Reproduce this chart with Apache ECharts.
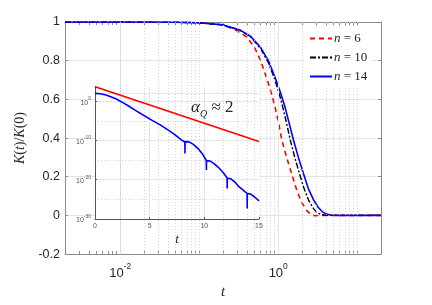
<!DOCTYPE html>
<html><head><meta charset="utf-8">
<script src="https://cdn.jsdelivr.net/npm/echarts@6/dist/echarts.min.js"></script>
<style>html,body{margin:0;padding:0;background:#fff}#c{width:432px;height:305px}</style>
</head><body><div id="c"></div>
<script>
// ---- main plot data: K(t)/K(0) vs t (log t axis) ----
const seriesNames = ['n = 6', 'n = 10', 'n = 14'];
const n6T  = [0.002, 0.02, 0.05, 0.1, 0.2, 0.3, 0.4, 0.5, 0.6, 0.68, 0.76, 0.83, 0.92, 1.0, 1.11, 1.3, 1.52, 1.75, 2.0, 2.3, 2.6, 2.9, 3.3, 20];
const n6K  = [1, 1, 0.999, 0.996, 0.985, 0.955, 0.922, 0.87, 0.8, 0.735, 0.675, 0.625, 0.552, 0.49, 0.39, 0.29, 0.2, 0.12, 0.065, 0.025, 0.006, -0.002, 0, 0];
const n10T = [0.002, 0.02, 0.05, 0.1, 0.2, 0.33, 0.45, 0.6, 0.75, 0.9, 1.03, 1.15, 1.27, 1.42, 1.62, 1.86, 2.12, 2.45, 2.8, 3.1, 3.5, 4.0, 20];
const n10K = [1, 1, 0.999, 0.996, 0.985, 0.957, 0.922, 0.862, 0.79, 0.705, 0.63, 0.555, 0.48, 0.39, 0.3, 0.215, 0.14, 0.075, 0.035, 0.015, 0.004, 0, 0];
const n14T = [0.002, 0.02, 0.05, 0.1, 0.2, 0.33, 0.45, 0.6, 0.75, 0.9, 1.05, 1.2, 1.35, 1.56, 1.8, 2.09, 2.4, 2.8, 3.2, 3.6, 4.0, 4.6, 5.5, 20];
const n14K = [1, 1, 0.999, 0.996, 0.985, 0.958, 0.925, 0.868, 0.8, 0.72, 0.645, 0.57, 0.49, 0.39, 0.3, 0.215, 0.14, 0.08, 0.042, 0.02, 0.008, 0.002, 0, 0];

// main axis ticks
const mainYTicks = [-0.2, 0, 0.2, 0.4, 0.6, 0.8, 1];
const mainXLabels = [0.01, 1];
const mainXMinor = [0.003, 0.004, 0.005, 0.006, 0.007, 0.008, 0.009,
  0.02, 0.03, 0.04, 0.05, 0.06, 0.07, 0.08, 0.09, 0.1,
  0.2, 0.3, 0.4, 0.5, 0.6, 0.7, 0.8, 0.9,
  2, 3, 4, 5, 6, 7, 8, 9, 10];

// ---- inset data: log10 K(t) vs t ----
const insetBlueT = [0, 0.5, 1, 1.5, 2, 2.5, 3, 3.66, 4.4, 5.19, 6, 6.7, 7.3, 7.93, 8.22,
  8.23, 8.24, 8.6, 9.0, 9.4, 9.8, 10.18, 10.19, 10.2, 10.5, 10.9, 11.3, 11.7, 12.08, 12.09, 12.1,
  12.4, 12.8, 13.1, 13.5, 13.91, 13.92, 13.93, 14.2, 14.6, 15];
const insetBlueLogK = [2.0, 1.9, 1.6, 1.1, 0.5, -0.3, -1.1, -2.26, -3.5, -4.8, -6.1, -7.35, -8.5, -9.9, -10.4,
  -13.3, -10.3, -10.35, -11.0, -12.0, -13.3, -15.1, -17.5, -15.2, -15.2, -15.9, -16.9, -18.1, -19.5, -22.2, -19.6,
  -19.7, -20.6, -21.6, -22.5, -23.5, -27.3, -23.5, -23.6, -24.4, -25.4];
const insetRedT = [0, 15];
const insetRedLogK = [3.7, -10.25];
const insetXTicks = [0, 5, 10, 15];
const insetYTicks = [-30, -20, -10, 0];

const SANS = "'Liberation Sans', Arial, Helvetica, sans-serif";
const SERIF = "'Liberation Serif', 'Times New Roman', serif";
const TXT = '#262626';
const AX = '#8a8a8a';
const GRIDC = '#e4e4e4';
const MINC = '#d2d2d2';

function pairs(xs, ys) { return xs.map((x, i) => [x, ys[i]]); }

const mainGridLines = []
  .concat(mainXLabels.map(v => ({ xAxis: v, lineStyle: { color: GRIDC, type: 'solid', width: 1 } })))
  .concat(mainXMinor.map(v => ({ xAxis: v, lineStyle: { color: MINC, type: [1, 2], width: 1 } })));

const insetGridLines = [
  { yAxis: 2, lineStyle: { color: GRIDC, type: 'solid', width: 1 } },
  { yAxis: 0, lineStyle: { color: GRIDC, type: 'solid', width: 1 } },
  { yAxis: -10, lineStyle: { color: GRIDC, type: 'solid', width: 1 } },
  { yAxis: -20, lineStyle: { color: GRIDC, type: 'solid', width: 1 } },
  { yAxis: -5, lineStyle: { color: MINC, type: [1, 2], width: 1 } },
  { yAxis: -15, lineStyle: { color: MINC, type: [1, 2], width: 1 } },
  { yAxis: -25, lineStyle: { color: MINC, type: [1, 2], width: 1 } },
  { xAxis: 5, lineStyle: { color: GRIDC, type: 'solid', width: 1 } },
  { xAxis: 10, lineStyle: { color: GRIDC, type: 'solid', width: 1 } }
];

const supRich = {
  b: { fontSize: 13, fontFamily: SANS, color: TXT, lineHeight: 18, verticalAlign: 'bottom' },
  s: { fontSize: 8.5, fontFamily: SANS, color: TXT, lineHeight: 10, verticalAlign: 'top' }
};
const supRichSmall = {
  b: { fontSize: 7, fontFamily: SANS, color: '#555', lineHeight: 10, verticalAlign: 'bottom' },
  s: { fontSize: 5, fontFamily: SANS, color: '#555', lineHeight: 6, verticalAlign: 'top' }
};

const chart = echarts.init(document.getElementById('c'), null, { renderer: 'canvas' });
const option = {
  animation: false,
  backgroundColor: '#fff',
  grid: [
    { left: 65, top: 22, width: 316, height: 237.5 },
    { left: 95, top: 86.7, width: 164, height: 132.3 }
  ],
  xAxis: [
    { type: 'log', logBase: 10, gridIndex: 0, min: 0.002, max: 20, position: 'bottom',
      axisLine: { show: true, onZero: false, lineStyle: { color: AX, width: 1 } },
      axisTick: { show: true, inside: true, length: 3, customValues: mainXLabels.concat(mainXMinor), lineStyle: { color: AX } },
      axisLabel: { show: true, customValues: mainXLabels, margin: 8,
        formatter: v => '{b|10}{s|' + Math.round(Math.log10(v)) + '}', rich: supRich },
      splitLine: { show: false }, minorTick: { show: false },
      name: 't', nameLocation: 'middle', nameGap: 27,
      nameTextStyle: { fontFamily: SERIF, fontStyle: 'italic', fontSize: 15, color: TXT } },
    { type: 'log', logBase: 10, gridIndex: 0, min: 0.002, max: 20, position: 'top',
      axisLine: { show: true, onZero: false, lineStyle: { color: AX, width: 1 } },
      axisTick: { show: true, inside: true, length: 3, customValues: mainXLabels.concat(mainXMinor), lineStyle: { color: AX } },
      axisLabel: { show: false }, splitLine: { show: false } },
    { type: 'value', gridIndex: 1, min: 0, max: 15, interval: 5, z: 5,
      axisLine: { show: true, onZero: false, lineStyle: { color: '#555', width: 1 } },
      axisTick: { show: true, inside: true, length: 2, lineStyle: { color: '#555' } },
      axisLabel: { fontSize: 7, fontFamily: SANS, color: '#555', margin: 4 },
      splitLine: { show: false },
      name: 't', nameLocation: 'middle', nameGap: 14,
      nameTextStyle: { fontFamily: SERIF, fontStyle: 'italic', fontSize: 13, color: TXT } }
  ],
  yAxis: [
    { type: 'value', gridIndex: 0, min: -0.2, max: 1, interval: 0.2, position: 'left',
      axisLine: { show: true, onZero: false, lineStyle: { color: AX, width: 1 } },
      axisTick: { show: true, inside: true, length: 3, lineStyle: { color: AX } },
      axisLabel: { fontSize: 12.5, fontFamily: SANS, color: TXT, margin: 5 },
      splitLine: { show: true, lineStyle: { color: GRIDC, width: 1 } },
      name: '{i|K}({i|t})/{i|K}(0)', nameLocation: 'middle', nameGap: 25, nameRotate: 90,
      nameTextStyle: { fontFamily: SERIF, fontSize: 14, color: TXT,
        rich: { i: { fontFamily: SERIF, fontStyle: 'italic', fontSize: 14, color: TXT } } } },
    { type: 'value', gridIndex: 0, min: -0.2, max: 1, interval: 0.2, position: 'right',
      axisLine: { show: true, onZero: false, lineStyle: { color: AX, width: 1 } },
      axisTick: { show: true, inside: true, length: 3, lineStyle: { color: AX } },
      axisLabel: { show: false }, splitLine: { show: false } },
    { type: 'value', gridIndex: 1, min: -30, max: 3.7, interval: 10, z: 5,
      axisLine: { show: true, onZero: false, lineStyle: { color: '#555', width: 1 } },
      axisTick: { show: true, inside: true, length: 2, lineStyle: { color: '#555' } },
      axisLabel: { showMaxLabel: false, margin: 4,
        formatter: v => '{b|10}{s|' + v + '}', rich: supRichSmall },
      splitLine: { show: false } }
  ],
  legend: {
    data: seriesNames, orient: 'vertical', left: 305, top: 27, z: 8,
    itemWidth: 22, itemHeight: 10, itemGap: 6, padding: [5, 4, 5, 4],
    backgroundColor: '#fff', borderWidth: 0,
    itemStyle: { color: 'rgba(0,0,0,0)', borderColor: 'rgba(0,0,0,0)', borderWidth: 0, opacity: 0 },
    formatter: n => '{i|n} ' + n.slice(2),
    textStyle: { fontFamily: SERIF, fontSize: 13, color: TXT, padding: [0, 0, 0, -3],
      rich: { i: { fontFamily: SERIF, fontStyle: 'italic', fontSize: 13, color: TXT } } }
  },
  graphic: [
    { type: 'rect', z: 3, silent: true, shape: { x: 95, y: 86.7, width: 164, height: 132.3 }, style: { fill: '#fff' } },
    { type: 'text', z: 7, left: 191, top: 99, silent: true,
      style: { text: '{i|α}{s|Q}{n| ≈ 2}', fill: TXT,
        rich: { i: { fontFamily: SERIF, fontStyle: 'italic', fontSize: 17, fill: TXT, lineHeight: 20, verticalAlign: 'top' },
                s: { fontFamily: SERIF, fontStyle: 'italic', fontSize: 10, fill: TXT, lineHeight: 14, verticalAlign: 'bottom' },
                n: { fontFamily: SERIF, fontSize: 17, fill: TXT, lineHeight: 20, verticalAlign: 'top' } } } }
  ],
  series: [
    { type: 'line', xAxisIndex: 0, yAxisIndex: 0, z: 1, data: [], silent: true,
      markLine: { silent: true, symbol: 'none', label: { show: false }, animation: false, data: mainGridLines } },
    { name: seriesNames[0], type: 'line', xAxisIndex: 0, yAxisIndex: 0, z: 2, symbol: 'none', smooth: false,
      data: pairs(n6T, n6K), lineStyle: { color: '#ff0000', width: 1.6, type: [5, 4] }, itemStyle: { color: '#ff0000' } },
    { name: seriesNames[1], type: 'line', xAxisIndex: 0, yAxisIndex: 0, z: 2, symbol: 'none', smooth: false,
      data: pairs(n10T, n10K), lineStyle: { color: '#000000', width: 1.4, type: [6, 2, 2, 2] }, itemStyle: { color: '#000000' } },
    { name: seriesNames[2], type: 'line', xAxisIndex: 0, yAxisIndex: 0, z: 2, symbol: 'none', smooth: false,
      data: pairs(n14T, n14K), lineStyle: { color: '#0000ff', width: 1.6 }, itemStyle: { color: '#0000ff' } },
    { type: 'line', xAxisIndex: 2, yAxisIndex: 2, z: 4, data: [], silent: true,
      markLine: { silent: true, symbol: 'none', label: { show: false }, animation: false, data: insetGridLines } },
    { type: 'line', xAxisIndex: 2, yAxisIndex: 2, z: 6, symbol: 'none',
      data: pairs(insetRedT, insetRedLogK), lineStyle: { color: '#ff0000', width: 1.6 } },
    { type: 'line', xAxisIndex: 2, yAxisIndex: 2, z: 6, symbol: 'none',
      data: pairs(insetBlueT, insetBlueLogK), lineStyle: { color: '#0000ff', width: 1.6 } }
  ]
};
chart.setOption(option);
</script>
</body></html>
